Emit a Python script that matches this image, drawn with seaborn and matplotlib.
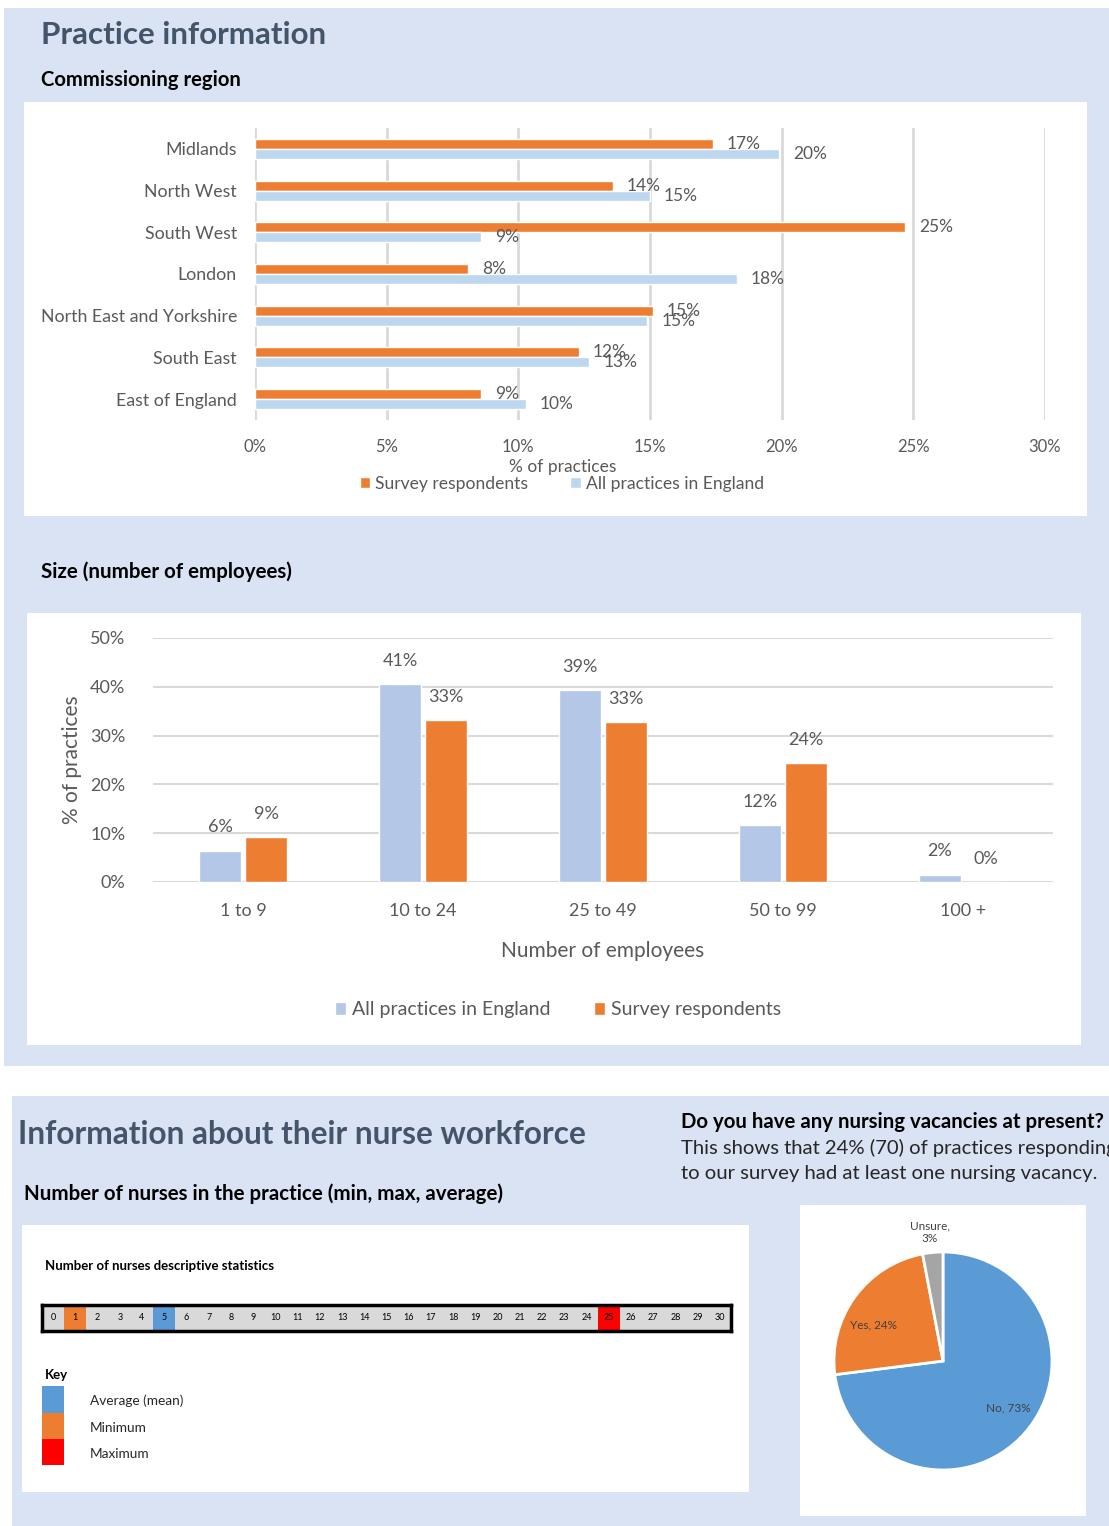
import numpy as np
import pandas as pd
import seaborn as sns
import matplotlib
matplotlib.use('Agg')
import matplotlib.pyplot as plt
from matplotlib.patches import Rectangle
from matplotlib.colors import ListedColormap

sns.set_theme(style='white')
plt.rcParams['font.family'] = ['Lato', 'DejaVu Sans']

# commissioning region (% of practices)
regions = ['Midlands', 'North West', 'South West', 'London',
           'North East and Yorkshire', 'South East', 'East of England']
region_survey = [17.4, 13.6, 24.7, 8.1, 15.1, 12.3, 8.6]
region_all = [19.9, 15.0, 8.6, 18.3, 14.9, 12.7, 10.3]

# practice size (% of practices)
sizes = ['1 to 9', '10 to 24', '25 to 49', '50 to 99', '100 +']
size_all = [6.4, 40.6, 39.3, 11.6, 1.5]
size_survey = [9.2, 33.2, 32.8, 24.4, 0.0]

# number of nurses
nurse_scale = [0, 1, 2, 3, 4, 5, 6, 7, 8, 9, 10, 11, 12, 13, 14, 15, 16, 17, 18, 19, 20,
               21, 22, 23, 24, 25, 26, 27, 28, 29, 30]
nurse_min = 1
nurse_mean = 5
nurse_max = 25

# vacancies
vac_labels = ['No', 'Yes', 'Unsure']
vac_values = [73, 24, 3]

SURVEY = 'Survey respondents'
ALL = 'All practices in England'
ORANGE = '#ED7D31'
LBLUE = '#BDD7EE'
BLUE2 = '#B4C7E7'
PANEL = '#DAE3F3'
TXT = '#595959'
TITLE = '#44546A'

W, H = 1109, 1526
fig = plt.figure(figsize=(W / 100, H / 100), dpi=100)
fig.patch.set_facecolor('white')


def rect(x0, y0, x1, y1):
    return [x0 / W, 1 - y1 / H, (x1 - x0) / W, (y1 - y0) / H]


def box(x0, y0, x1, y1, color):
    fig.add_artist(Rectangle((x0 / W, 1 - y1 / H), (x1 - x0) / W, (y1 - y0) / H,
                             transform=fig.transFigure, facecolor=color,
                             edgecolor='none', zorder=-10))


def ftext(x, y, s, **kw):
    fig.text(x / W, 1 - y / H, s, va='center', **kw)


# panels
box(4, 8, W, 1066, PANEL)
box(12, 1096, W, H, PANEL)
box(24, 102, 1087, 516, 'white')
box(27, 613, 1081, 1045, 'white')
box(22, 1225, 749, 1492, 'white')
box(800, 1205, 1086, 1516, 'white')

ftext(41, 35, 'Practice information', fontsize=22.6, fontweight='bold', color=TITLE)
ftext(41, 80, 'Commissioning region', fontsize=14.6, fontweight='bold', color='black')
ftext(41, 572, 'Size (number of employees)', fontsize=14.8, fontweight='bold', color='black')
ftext(18, 1134, 'Information about their nurse workforce', fontsize=22.8, fontweight='bold',
      color=TITLE)
ftext(24, 1194, 'Number of nurses in the practice (min, max, average)', fontsize=14.8,
      fontweight='bold', color='black')
ftext(681, 1122, 'Do you have any nursing vacancies at present?', fontsize=14.7,
      fontweight='bold', color='black')
ftext(681, 1148, 'This shows that 24% (70) of practices responding', fontsize=14.6,
      color='#262626')
ftext(681, 1174, 'to our survey had at least one nursing vacancy.', fontsize=14.6,
      color='#262626')

# chart 1: commissioning region
df1 = pd.DataFrame({'region': regions * 2,
                    'group': [SURVEY] * len(regions) + [ALL] * len(regions),
                    'value': region_survey + region_all})
ax1 = fig.add_axes(rect(255, 128, 1045, 420))
sns.barplot(data=df1, y='region', x='value', hue='group', hue_order=[SURVEY, ALL],
            palette=[ORANGE, LBLUE], width=0.48, orient='h', ax=ax1, saturation=1)
ax1.set_xlim(0, 30)
ax1.set_xticks(range(0, 31, 5))
ax1.set_xticklabels([f'{v}%' for v in range(0, 31, 5)])
ax1.xaxis.grid(True, color='#D9D9D9', linewidth=2)
ax1.set_axisbelow(True)
for s in ax1.spines.values():
    s.set_visible(False)
ax1.set_facecolor('none')
ax1.tick_params(axis='both', length=0, labelsize=12, labelcolor=TXT)
ax1.tick_params(axis='y', labelsize=12.8, pad=13)
ax1.tick_params(axis='x', pad=14)
ax1.set_ylabel('')
ax1.set_xlabel('% of practices', fontsize=12.5, color=TXT)
ax1.xaxis.set_label_coords((563 - 255) / 790, -(459 - 420) / 292)
for c in ax1.containers:
    ax1.bar_label(c, labels=[f'{v:.0f}%' for v in c.datavalues], padding=10,
                  fontsize=12.5, color=TXT)
h, l = ax1.get_legend_handles_labels()
ax1.legend(h, l, loc='center', bbox_to_anchor=(562 / W, 1 - 484 / H),
           bbox_transform=fig.transFigure, ncol=2, frameon=False, fontsize=12.6,
           labelcolor=TXT, handlelength=0.6, handleheight=0.6, handletextpad=0.3,
           columnspacing=2.4)

# chart 2: size
df2 = pd.DataFrame({'size': sizes * 2,
                    'group': [ALL] * len(sizes) + [SURVEY] * len(sizes),
                    'value': size_all + size_survey})
ax2 = fig.add_axes(rect(153, 638, 1053, 882))
sns.barplot(data=df2, x='size', y='value', hue='group', hue_order=[ALL, SURVEY],
            palette=[BLUE2, ORANGE], width=0.51, gap=0.1, ax=ax2, saturation=1)
ax2.set_ylim(0, 50)
ax2.set_yticks(range(0, 51, 10))
ax2.set_yticklabels([f'{v}%' for v in range(0, 51, 10)])
ax2.yaxis.grid(True, color='#D9D9D9', linewidth=1.5)
ax2.set_axisbelow(True)
for s in ax2.spines.values():
    s.set_visible(False)
ax2.set_facecolor('none')
ax2.tick_params(axis='both', length=0, labelsize=13, labelcolor=TXT)
ax2.tick_params(axis='x', pad=15)
ax2.tick_params(axis='y', pad=20)
ax2.set_xlabel('Number of employees', fontsize=15, color=TXT, labelpad=16)
ax2.set_ylabel('% of practices', fontsize=15, color=TXT, labelpad=6)
for c in ax2.containers:
    ax2.bar_label(c, labels=[f'{v:.0f}%' for v in c.datavalues], padding=11,
                  fontsize=13, color=TXT)
h, l = ax2.get_legend_handles_labels()
ax2.legend(h, l, loc='center', bbox_to_anchor=(558 / W, 1 - 1010 / H),
           bbox_transform=fig.transFigure, ncol=2, frameon=False, fontsize=14,
           labelcolor=TXT, handlelength=0.6, handleheight=0.6, handletextpad=0.3,
           columnspacing=2.2)

# nurse strip
ftext(45, 1266, 'Number of nurses descriptive statistics', fontsize=9.5, fontweight='bold',
      color='black')
codes = [1 if n == nurse_min else 2 if n == nurse_mean else 3 if n == nurse_max else 0
         for n in nurse_scale]
ax3 = fig.add_axes(rect(42, 1305, 731, 1331))
sns.heatmap(np.array([codes]), cmap=ListedColormap(['#D9D9D9', ORANGE, '#5B9BD5', '#FF0000']),
            vmin=-0.5, vmax=3.5, cbar=False, annot=np.array([nurse_scale]), fmt='d',
            annot_kws={'fontsize': 6.5, 'color': 'black'}, ax=ax3)
ax3.set_xticks([])
ax3.set_yticks([])
for s in ax3.spines.values():
    s.set_visible(True)
    s.set_linewidth(2.5)
    s.set_color('black')

ftext(45, 1375, 'Key', fontsize=9.5, fontweight='bold', color='black')
box(42, 1386, 64, 1413, '#5B9BD5')
box(42, 1413, 64, 1439, ORANGE)
box(42, 1439, 64, 1465, '#FF0000')
for y, s in [(1401, 'Average (mean)'), (1428, 'Minimum'), (1454, 'Maximum')]:
    ftext(90, y, s, fontsize=9.8, color='#262626')

# pie
ax4 = fig.add_axes(rect(834, 1252, 1052, 1470))
wedges, _ = ax4.pie(vac_values, colors=['#5B9BD5', ORANGE, '#A5A5A5'], startangle=90,
                    counterclock=False, radius=1,
                    wedgeprops=dict(edgecolor='white', linewidth=2))
ax4.set_xlim(-1, 1)
ax4.set_ylim(-1, 1)
label_pos = [(0.6, -0.43), (-0.64, 0.33), (-0.12, 1.18)]
for lab, v, (px, py) in zip(vac_labels, vac_values, label_pos):
    txt = f'{lab},\n{v}%' if py > 1 else f'{lab}, {v}%'
    ax4.text(px, py, txt, ha='center', va='center', fontsize=8.5, color='#404040')

fig.savefig('out.png', dpi=100)
